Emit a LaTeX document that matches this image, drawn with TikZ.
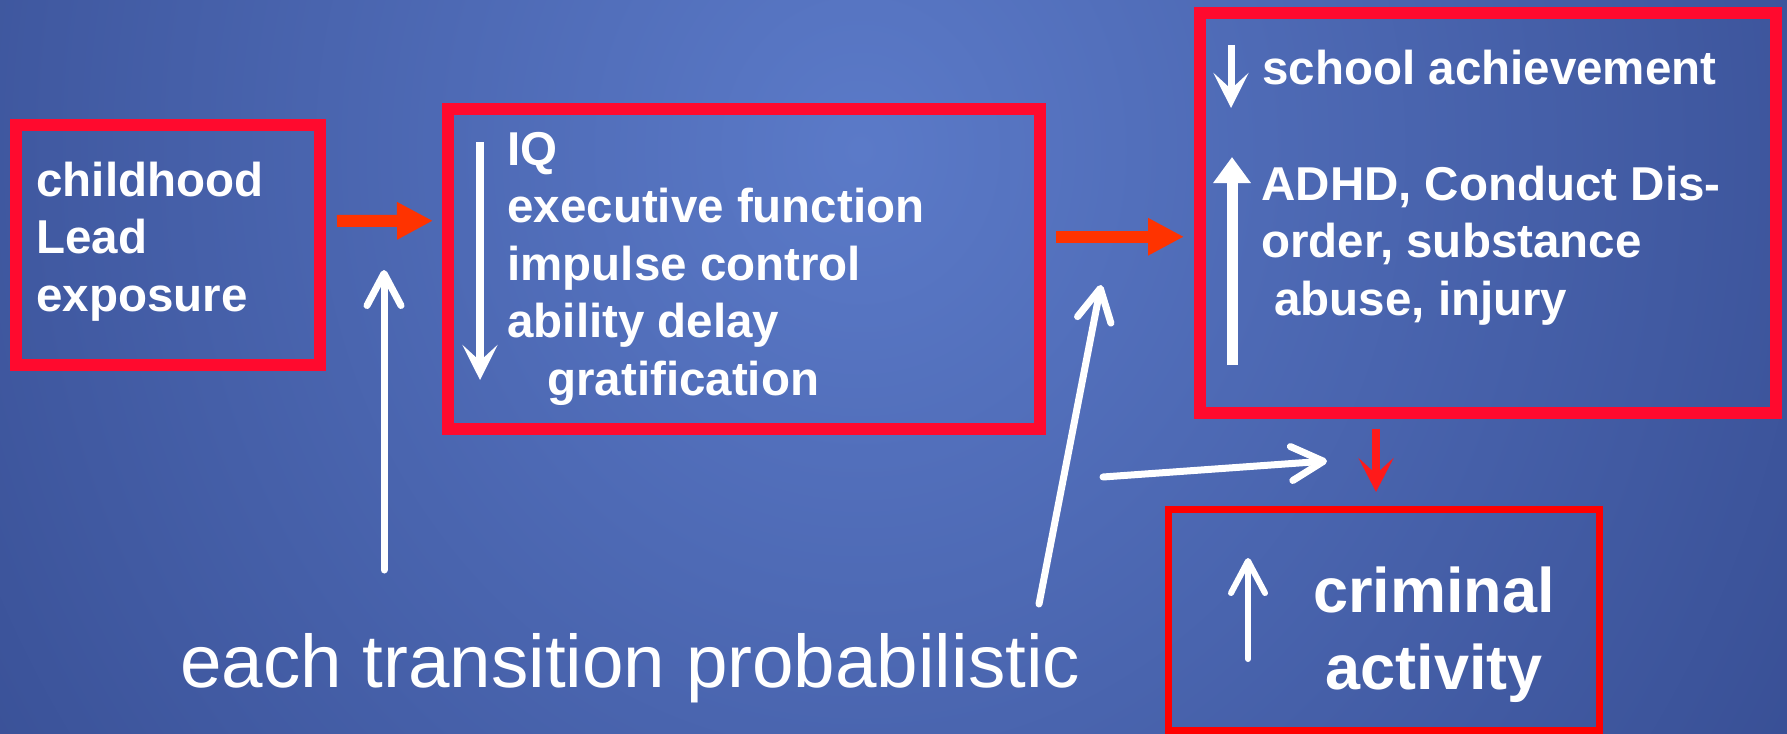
\documentclass[tikz,border=0pt]{standalone}
\usepackage{fontspec}
\setmainfont{Liberation Sans}
\usetikzlibrary{arrows.meta}
\definecolor{bgLight}{HTML}{5B7AC8}
\definecolor{bgDark}{HTML}{1E2F6F}
\definecolor{boxRed}{HTML}{FF0A2E}
\definecolor{crimeRed}{HTML}{FF0000}
\definecolor{flowRed}{HTML}{FF3300}
\definecolor{dropRed}{HTML}{FF1A1A}
\begin{document}
\begin{tikzpicture}[x=0.5pt, y=-0.5pt,
  redbox/.style={draw=boxRed, line width=6pt, inner sep=0pt, outer sep=0pt},
  crimebox/.style={draw=crimeRed, line width=3.5pt, inner sep=0pt, outer sep=0pt},
  boxtext/.style={text=white, font=\bfseries\fontsize{23.75}{28.75}\selectfont,
                  align=left, anchor=base west, inner sep=0pt},
  crimetext/.style={text=white, font=\bfseries\fontsize{31.5}{38.5}\selectfont,
                    align=center, anchor=base, inner sep=0pt},
  probtext/.style={text=white, font=\fontsize{37.3}{44}\selectfont,
                   anchor=base west, inner sep=0pt},
  flow/.style={draw=flowRed, line width=6pt, -{Triangle[length=18pt, width=17.5pt]}},
  drop/.style={draw=dropRed, line width=4pt, -{Stealth[length=17pt, width=17.5pt, inset=8pt]}},
  hint/.style={draw=white, line width=3.5pt, line cap=round,
               -{Straight Barb[length=16pt, width=17pt, round]}},
  fall/.style={draw=white, line width=4pt, -{Stealth[length=17.5pt, width=17.5pt, inset=8pt]}},
  rise/.style={draw=white, line width=5.5pt, -{Triangle[length=13pt, width=18pt]}}
]
  \useasboundingbox (0,0) rectangle (1787,733);
  \begin{scope}
    \clip (0,0) rectangle (1787,733);
    \shade[inner color=bgLight, outer color=bgDark] (-1040,-1950) rectangle (2760,2250);
  \end{scope}

  % boxes
  \node[redbox, minimum width=152pt, minimum height=120pt] (lead) at (168,245) {};
  \node[redbox, minimum width=296pt, minimum height=159.75pt] (cog) at (744,268.75) {};
  \node[redbox, minimum width=288pt, minimum height=199.75pt] (outcome) at (1488,212.75) {};
  \node[crimebox, minimum width=215.5pt, minimum height=110.25pt] (crime) at (1383.5,619.75) {};

  % texts (anchored at the baseline of their last line)
  \node[boxtext] (leadtxt) at (36,311) {childhood\\Lead\\exposure};
  \node[boxtext] (cogtxt) at (507,395)
    {IQ\\executive function\\impulse control\\ability delay\\\hspace*{20pt}gratification};
  \node[boxtext] (schooltxt) at (1262,85) {school achievement};
  \node[boxtext] (adhdtxt) at (1261,315)
    {ADHD, Conduct Dis-\\order, substance\\\hspace*{6.5pt}abuse, injury};
  \node[crimetext] (crimetxt) at (1434,689) {criminal\\activity};
  \node[probtext] (prob) at (180,687) {each transition probabilistic};

  % markers inside the boxes
  \draw[fall] (480,142) -- (480,380);
  \draw[fall, line width=3.5pt] (1231,45) -- (1231,108);
  \draw[rise] (1232,365) -- (1232,157);
  \draw[hint, line width=3pt] (1248,659) -- (1248,558);

  % transitions
  \draw[flow] ([shift={(17,-24)}]lead.east) -- ([shift={(-15,-48)}]cog.west);
  \draw[flow] ([shift={(16,-32)}]cog.east) -- ([shift={(-16,24)}]outcome.west);
  \draw[drop] ([shift={(-112,16.5)}]outcome.south) -- ([shift={(-7.5,-17.5)}]crime.north);

  \coordinate (tail1) at (384,570);
  \coordinate (head1) at (384,270);
  \coordinate (tail2) at (1039,604);
  \coordinate (head2) at (1101,285);
  \coordinate (tail3) at (1103,477);
  \coordinate (head3) at (1327,461);
  \draw[hint] (tail1) -- (head1);
  \draw[hint] (tail2) -- (head2);
  \draw[hint] (tail3) -- (head3);
\end{tikzpicture}
\end{document}
